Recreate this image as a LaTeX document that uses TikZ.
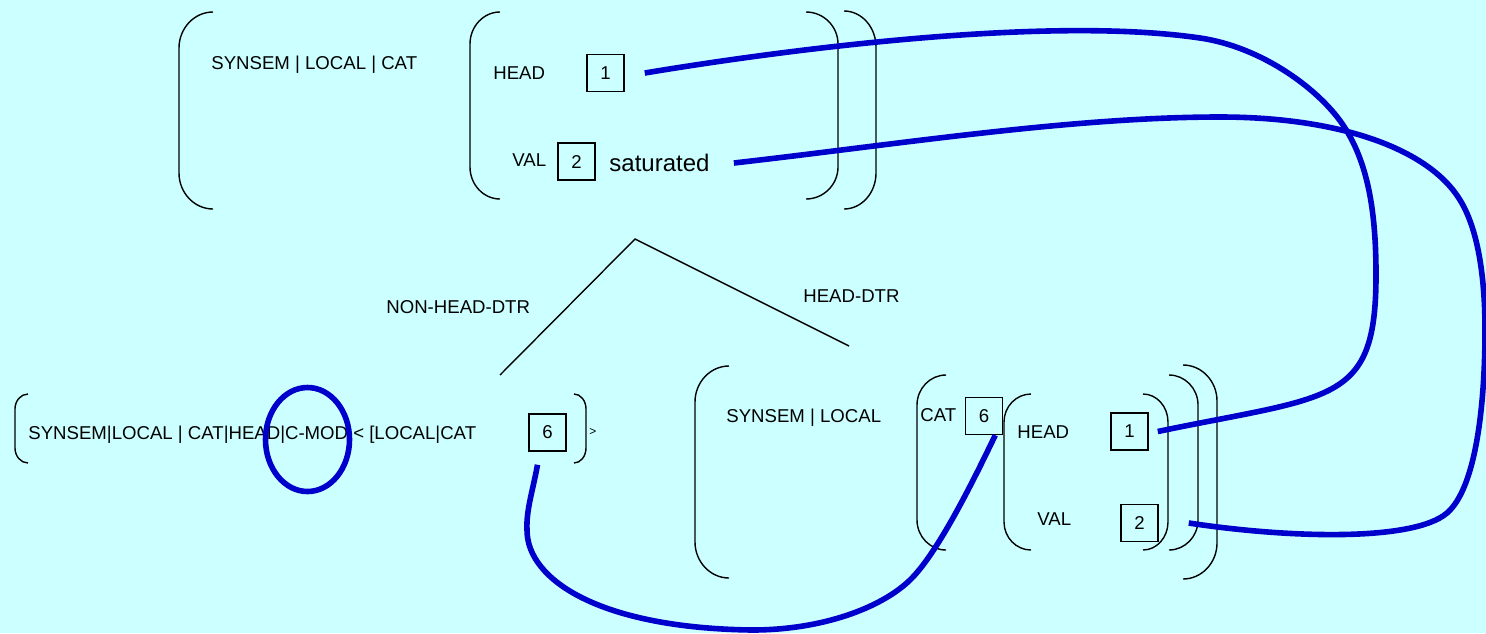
\documentclass[tikz,border=0pt]{standalone}
\usepackage{fontspec}
\setmainfont{Liberation Sans}
\usetikzlibrary{shapes.geometric}
\definecolor{paper}{RGB}{204,255,255}
\definecolor{linkblue}{RGB}{0,0,204}

% rounded bracket: #1 stem x, #2 hook end x, #3 top y, #4 bottom y, #5 curve height
\newcommand\fsbracket[5]{%
  \draw[brk] (#2,#3) .. controls ({#1+0.45*(#2-#1)},#3) and (#1,{#3+0.45*#5}) .. (#1,{#3+#5})
    -- (#1,{#4-#5}) .. controls (#1,{#4-0.45*#5}) and ({#1+0.45*(#2-#1)},#4) .. (#2,#4);}

\begin{document}
\begin{tikzpicture}[x=0.5pt,y=-0.5pt,
  lbl/.style={anchor=west, inner sep=0pt, font=\fontsize{9.3}{11}\selectfont},
  tag/.style={draw, line width=0.75pt, minimum size=18.5pt, inner sep=0pt,
    font=\fontsize{9.3}{11}\selectfont},
  brk/.style={line width=0.7pt},
  branch/.style={line width=0.7pt},
  link/.style={draw=linkblue, line width=2.8pt}]

\fill[paper] (0,0) rectangle (1486,633);
\useasboundingbox (0,0) rectangle (1486,633);

% ---- mother: SYNSEM|LOCAL|CAT [HEAD 1, VAL 2 saturated]
\fsbracket{179}{213}{12}{209}{36}
\fsbracket{470}{500}{12}{199}{32}
\fsbracket{838}{806}{12}{199}{32}
\fsbracket{876}{844}{11}{209}{36}
\node[lbl] (mcat) at (211,64.5) {SYNSEM | LOCAL | CAT};
\node[lbl] (mhead) at (493,73) {HEAD};
\node[tag] (b1top) at (605.5,73) {1};
\node[lbl] (mval) at (512,160) {VAL};
\node[tag] (b2top) at (576.5,161.5) {2};
\node[anchor=west, inner sep=0pt, font=\fontsize{12}{14}\selectfont] (sat) at (609,163) {saturated};

% ---- tree branches
\coordinate (apex) at (635,239);
\coordinate (nhend) at (500,375);
\coordinate (hdend) at (849,346);
\draw[branch] (nhend) -- (apex) -- (hdend);
\node[lbl] (nhlab) at (386,307) {NON-HEAD-DTR};
\node[lbl] (hdlab) at (803,296.5) {HEAD-DTR};

% ---- non-head daughter
\fsbracket{15}{28}{394}{463}{15}
\fsbracket{586}{574}{394}{463}{15}
\node[lbl] (nhtext) at (28,434.5) {SYNSEM|LOCAL | CAT|HEAD|C-MOD < [LOCAL|CAT};
\node[tag] (b6left) at (547.5,432.5) {6};
\node[anchor=west, inner sep=0pt, font=\fontsize{6}{7}\selectfont] (gt) at (589,432) {>};
\node[ellipse, draw=linkblue, line width=2.8pt, minimum width=42pt, minimum height=52pt,
  inner sep=0pt] (cmod) at (307.5,439.5) {};

% ---- head daughter
\fsbracket{695}{729}{366}{578}{36}
\fsbracket{917}{946}{375}{550}{30}
\fsbracket{1004}{1031}{394}{550}{28}
\fsbracket{1168}{1143}{394}{550}{28}
\fsbracket{1198}{1169}{375}{550}{30}
\fsbracket{1217}{1183}{365}{579}{36}
\node[lbl] (hsl) at (726,417.5) {SYNSEM | LOCAL};
\node[lbl] (hcat) at (920,415) {CAT};
\node[tag] (b6right) at (984,416) {6};
\node[lbl] (hhead) at (1017,432) {HEAD};
\node[tag] (b1bot) at (1129.5,431.5) {1};
\node[lbl] (hval) at (1037,519) {VAL};
\node[tag] (b2bot) at (1139.5,523) {2};

% ---- structure sharing links
\draw[link] ([xshift=10pt]b1top.east)
  .. controls (795,48) and (1050,16) .. (1200,38)
  .. controls (1262,47) and (1321,90) .. (1345,128)
  .. controls (1369,166) and (1376,215) .. (1376,275)
  .. controls (1376,405) and (1333,395) .. ([xshift=4.5pt]b1bot.east);

\draw[link] ([xshift=12pt]sat.east)
  .. controls (893,145) and (1070,117) .. (1220,117)
  .. controls (1340,117) and (1429,149) .. (1460,200)
  .. controls (1481,234) and (1485,290) .. (1485,330)
  .. controls (1485,400) and (1477,487) .. (1447,513)
  .. controls (1413,542) and (1287,538) .. ([xshift=15pt]b2bot.east);

\draw[link] ([xshift=-5pt,yshift=-6.5pt]b6left.south)
  .. controls (533,490) and (526,510) .. (527,530)
  .. controls (527,580) and (600,628) .. (752,630)
  .. controls (822,630) and (881,608) .. (910,580)
  .. controls (939,552) and (977,473) .. ([xshift=-4pt]b6right.south east);

\end{tikzpicture}
\end{document}
